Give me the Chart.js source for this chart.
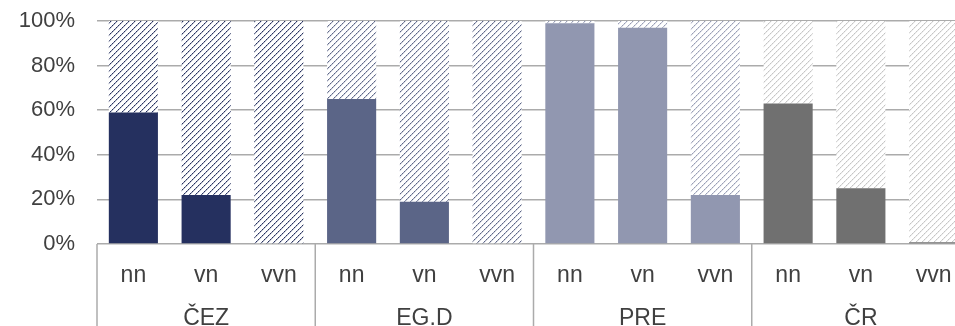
<!DOCTYPE html>
<html>
<head>
<meta charset="utf-8">
<script src="https://cdn.jsdelivr.net/npm/chart.js@4"></script>
<style>
  html, body { margin: 0; padding: 0; overflow: hidden; background: #fff; }
  #wrap { width: 970px; height: 326px; }
</style>
</head>
<body>
<div id="wrap"><canvas id="chart" width="970" height="326"></canvas></div>
<script>
// distributors and voltage levels
const groups = ["ČEZ", "EG.D", "PRE", "ČR"];
const levels = ["nn", "vn", "vvn"];
// share (%) of the solid part, per bar
const shares = [59, 22, 0, 65, 19, 0, 99, 97, 22, 63, 25, 0.8];
const yTicks = [0, 20, 40, 60, 80, 100];

const solidColors = ["#25305f", "#5b6587", "#9197b0", "#707070"];
const hatchColors = ["#25305f", "#5b6587", "#979db5", "#c4c4c4"];

const fontFamily = "'Liberation Sans', Arial, sans-serif";
const textColor = "#404040";
const lineColor = "#ababab";

const labels = [];
groups.forEach(g => levels.forEach(l => labels.push(l)));
const rest = shares.map(v => 100 - v);

// "/" hatch tile, drawn pixel by pixel, dotted like the original
const hatch = (color) => {
	const c = document.createElement("canvas");
	c.width = 6;
	c.height = 6;
	const g = c.getContext("2d");
	g.fillStyle = "#fff";
	g.fillRect(0, 0, 6, 6);
	g.fillStyle = color;
	for (let i = 0; i < 6; i++) {
		g.globalAlpha = i % 2 ? 0.7 : 1;
		g.fillRect(i, 5 - i, 1, 1);
		g.globalAlpha = 0.25;
		g.fillRect((i + 1) % 6, 5 - i, 1, 1);
	}
	return g.createPattern(c, "repeat");
};

const solidBg = shares.map((v, i) => solidColors[Math.floor(i / levels.length)]);
const hatchBg = shares.map((v, i) => hatch(hatchColors[Math.floor(i / levels.length)]));

// two level category axis: level labels, group labels and separators
const groupAxis = {
	id: "groupAxis",
	afterDraw(chart) {
		const {ctx, chartArea, scales} = chart;
		const x = scales.x;
		const n = levels.length;
		const step = x.getPixelForValue(1) - x.getPixelForValue(0);
		ctx.save();
		ctx.fillStyle = textColor;
		ctx.textAlign = "center";
		ctx.textBaseline = "alphabetic";
		ctx.font = "23px " + fontFamily;
		labels.forEach((l, i) => {
			ctx.fillText(l, x.getPixelForValue(i), 282);
		});
		groups.forEach((g, k) => {
			const mid = (x.getPixelForValue(k * n) + x.getPixelForValue(k * n + n - 1)) / 2;
			ctx.fillText(g, mid, 325);
		});
		ctx.strokeStyle = lineColor;
		ctx.lineWidth = 1.5;
		for (let k = 0; k <= groups.length; k++) {
			const px = x.getPixelForValue(k * n) - step / 2;
			ctx.beginPath();
			ctx.moveTo(px, chartArea.bottom);
			ctx.lineTo(px, chart.height);
			ctx.stroke();
		}
		ctx.restore();
	}
};

new Chart(document.getElementById("chart"), {
	type: "bar",
	data: {
		labels: labels,
		datasets: [
			{ data: shares, backgroundColor: solidBg, borderWidth: 0 },
			{ data: rest, backgroundColor: hatchBg, borderWidth: 0 }
		]
	},
	options: {
		responsive: false,
		animation: false,
		layout: { padding: { top: 21, right: 0, left: 0, bottom: 0 } },
		datasets: { bar: { categoryPercentage: 1, barPercentage: 0.675 } },
		plugins: { legend: { display: false }, tooltip: { enabled: false } },
		scales: {
			x: {
				stacked: true,
				grid: { display: false },
				border: { display: false },
				ticks: { display: false },
				afterFit: (s) => { s.height = 82; }
			},
			y: {
				stacked: true,
				min: 0,
				max: 100,
				afterBuildTicks: (s) => { s.ticks = yTicks.map(v => ({value: v})); },
				grid: { color: lineColor, lineWidth: 1.5, drawTicks: false },
				border: { display: false },
				ticks: {
					padding: 22,
					color: textColor,
					font: { family: fontFamily, size: 22 },
					callback: (v) => v + "%"
				},
				afterFit: (s) => {
					s.width = 97;
					s.paddingTop = 0;
					s.paddingBottom = 0;
				}
			}
		}
	},
	plugins: [groupAxis]
});
</script>
</body>
</html>
